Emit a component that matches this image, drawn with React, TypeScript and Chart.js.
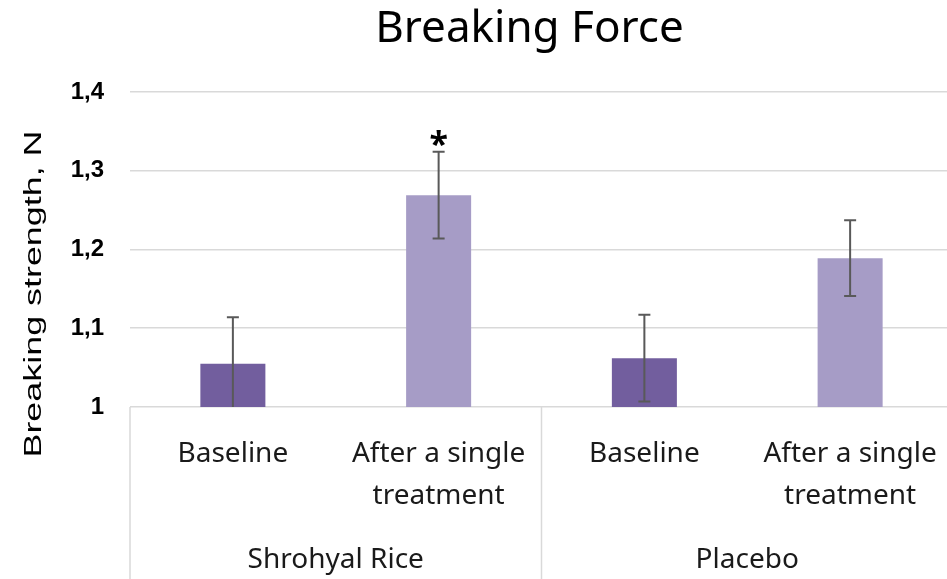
import React, { useEffect, useRef } from "react";
import { Chart, registerables } from "chart.js";

Chart.register(...registerables);

const titleText = "Breaking Force";
const yTitleText = "Breaking strength, N";
const groups = ["Shrohyal Rice", "Placebo"];
const categories = [["Baseline"], ["After a single", "treatment"], ["Baseline"], ["After a single", "treatment"]];
const categoryGroup = [0, 0, 1, 1];
const values = [1.055, 1.269, 1.062, 1.189];
const errors = [0.059, 0.055, 0.055, 0.048];
const markers = ["", "*", "", ""];
const barColors = ["#725E9E", "#A69CC6", "#725E9E", "#A69CC6"];
const yTicks = [1, 1.1, 1.2, 1.3, 1.4];
const yTickLabels = ["1", "1,1", "1,2", "1,3", "1,4"];

const CAT_FONT = "'Noto Sans', sans-serif";
const AX_FONT = "'Liberation Sans', Arial, sans-serif";
const GRID = "#d9d9d9";

const decorPlugin = {
  id: "decor",
  afterDatasetsDraw(chart: any) {
    const ctx = chart.ctx;
    const y = chart.scales.y;
    const meta = chart.getDatasetMeta(0);
    const area = chart.chartArea;
    ctx.save();
    ctx.beginPath();
    ctx.rect(area.left, 0, area.right - area.left, area.bottom);
    ctx.clip();
    ctx.strokeStyle = "#595959";
    ctx.lineWidth = 2;
    values.forEach((v, i) => {
      const cx = meta.data[i].x;
      const yt = y.getPixelForValue(v + errors[i]);
      const yb = y.getPixelForValue(v - errors[i]);
      ctx.beginPath();
      ctx.moveTo(cx, yt);
      ctx.lineTo(cx, yb);
      ctx.moveTo(cx - 6, yt);
      ctx.lineTo(cx + 6, yt);
      ctx.moveTo(cx - 6, yb);
      ctx.lineTo(cx + 6, yb);
      ctx.stroke();
      if (markers[i]) {
        ctx.fillStyle = "#000";
        ctx.font = `bold 34px ${CAT_FONT}`;
        ctx.textAlign = "center";
        ctx.textBaseline = "alphabetic";
        ctx.fillText(markers[i], cx, yt + 4);
      }
    });
    ctx.restore();
  },
  afterDraw(chart: any) {
    const ctx = chart.ctx;
    const x = chart.scales.x;
    const area = chart.chartArea;
    ctx.save();
    // title
    ctx.fillStyle = "#000";
    ctx.font = `44px ${CAT_FONT}`;
    ctx.textAlign = "center";
    ctx.textBaseline = "middle";
    ctx.fillText(titleText, (area.left + area.right) / 2 - 12, 29);
    // y title (slightly stretched along its length)
    ctx.save();
    ctx.translate(35, 294);
    ctx.rotate(-Math.PI / 2);
    ctx.font = `23px ${AX_FONT}`;
    const w = ctx.measureText(yTitleText).width;
    ctx.scale(327 / w, 1);
    ctx.fillText(yTitleText, 0, 0);
    ctx.restore();
    // separators and group labels
    const half = (x.getPixelForValue(1) - x.getPixelForValue(0)) / 2;
    ctx.strokeStyle = GRID;
    ctx.lineWidth = 1.5;
    const bounds: number[] = [];
    categoryGroup.forEach((g, i) => {
      if (i === 0 || categoryGroup[i - 1] !== g) bounds.push(x.getPixelForValue(i) - half);
    });
    bounds.push(x.getPixelForValue(categoryGroup.length - 1) + half);
    bounds.forEach((bx) => {
      ctx.beginPath();
      ctx.moveTo(bx, area.bottom);
      ctx.lineTo(bx, chart.height);
      ctx.stroke();
    });
    ctx.fillStyle = "#1a1a1a";
    ctx.font = `28px ${CAT_FONT}`;
    groups.forEach((name, gi) => {
      const idx = categoryGroup.map((g, i) => (g === gi ? i : -1)).filter((i) => i >= 0);
      const cx = idx.reduce((s, i) => s + x.getPixelForValue(i), 0) / idx.length;
      ctx.fillText(name, cx, 560);
    });
    ctx.restore();
  },
};

export default function App() {
  const ref = useRef<HTMLCanvasElement>(null);
  useEffect(() => {
    if (!ref.current) return;
    const chart = new Chart(ref.current, {
      type: "bar",
      data: {
        labels: categories as any,
        datasets: [
          {
            data: values,
            backgroundColor: barColors,
            barPercentage: 0.316,
            categoryPercentage: 1,
          },
        ],
      },
      options: {
        responsive: false,
        animation: false,
        layout: { padding: { top: 92, left: 0, right: 0, bottom: 0 } },
        plugins: {
          legend: { display: false },
          title: { display: false },
          tooltip: { enabled: false },
        },
        scales: {
          x: {
            grid: { display: false, drawTicks: false },
            border: { display: false },
            ticks: {
              color: "#1a1a1a",
              font: { family: CAT_FONT, size: 28, lineHeight: 1.5 },
              padding: 26,
              maxRotation: 0,
              autoSkip: false,
            },
            afterFit: (s: any) => {
              s.height = 172;
              s.paddingLeft = 0;
              s.paddingRight = 0;
            },
          },
          y: {
            min: 1,
            max: 1.4,
            afterBuildTicks: (s: any) => {
              s.ticks = yTicks.map((v) => ({ value: v }));
            },
            ticks: {
              color: "#000",
              font: { family: AX_FONT, size: 24, weight: "bold" },
              padding: 26,
              callback: (_v: any, i: number) => yTickLabels[i],
            },
            grid: { color: GRID, lineWidth: 1.5, drawTicks: false },
            border: { display: false },
            afterFit: (s: any) => {
              s.width = 130;
            },
          },
        },
      },
      plugins: [decorPlugin],
    });
    return () => chart.destroy();
  }, []);
  return (
    <div style={{ position: "fixed", left: 0, top: 0, width: 947, height: 579, overflow: "hidden", background: "#fff" }}>
      <canvas ref={ref} width={953} height={579} style={{ display: "block" }} />
    </div>
  );
}
